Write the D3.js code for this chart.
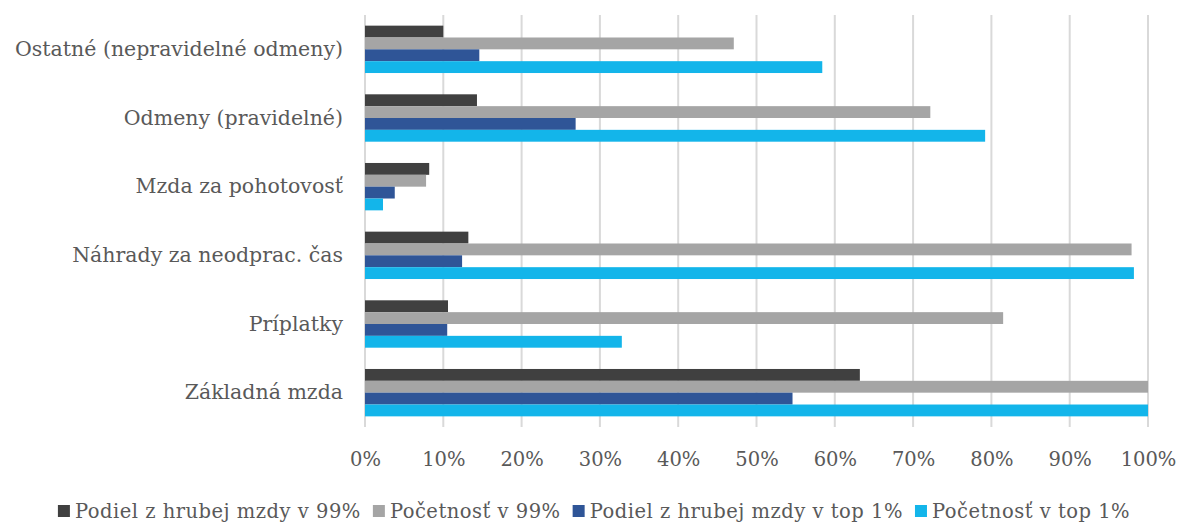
<!DOCTYPE html>
<html><head><meta charset="utf-8">
<script src="https://cdn.jsdelivr.net/npm/d3@7"></script>
<style>
html,body{margin:0;padding:0;background:#fff;}
svg text{font-family:"DejaVu Serif","Liberation Serif",serif;fill:#595959;}
</style></head>
<body><svg id="c" width="1177" height="523"></svg>
<script>
const categories = ["Ostatné (nepravidelné odmeny)","Odmeny (pravidelné)","Mzda za pohotovosť","Náhrady za neodprac. čas","Príplatky","Základná mzda"];
const seriesNames = ["Podiel z hrubej mzdy v 99%","Početnosť v 99%","Podiel z hrubej mzdy v top 1%","Početnosť v top 1%"];
const podiel99 = [10.0, 14.3, 8.2, 13.2, 10.6, 63.2];
const pocetnost99 = [47.1, 72.2, 7.8, 97.9, 81.5, 100];
const podielTop1 = [14.6, 26.9, 3.8, 12.4, 10.5, 54.6];
const pocetnostTop1 = [58.4, 79.2, 2.3, 98.2, 32.8, 100];
const tickValues = [0,10,20,30,40,50,60,70,80,90,100];
const colors = ["#404040","#a5a5a5","#2f5597","#13b5ea"];

(function(){
const seriesValues = [podiel99, pocetnost99, podielTop1, pocetnostTop1];
const svg = d3.select("#c");
const mLeft = 365, mRight = 1148, mTop = 15, mBottom = 427;

const x = d3.scaleLinear().domain([0,100]).range([mLeft,mRight]);
const y = d3.scaleBand().domain(categories).range([mTop,mBottom]).paddingInner(0.31).paddingOuter(0.155);
const ySub = d3.scaleBand().domain(d3.range(4)).range([0,y.bandwidth()]);

svg.append("g").selectAll("line").data(tickValues).join("line")
  .attr("x1",d=>x(d)).attr("x2",d=>x(d)).attr("y1",mTop).attr("y2",mBottom)
  .attr("stroke","#d9d9d9").attr("stroke-width",2);

const g = svg.append("g");
categories.forEach((c,i)=>{
  seriesValues.forEach((vals,s)=>{
    g.append("rect").attr("x",x(0)).attr("y",y(c)+ySub(s))
     .attr("width",x(vals[i])-x(0)).attr("height",ySub.bandwidth())
     .attr("fill",colors[s]);
  });
});

const xa = svg.append("g").attr("transform",`translate(0,${mBottom})`)
  .call(d3.axisBottom(x).tickValues(tickValues).tickFormat(d=>d+"%").tickSize(0).tickPadding(25));
xa.select(".domain").remove();
xa.attr("font-family",null).attr("font-size",null);
xa.selectAll("text").attr("font-size",19.5).attr("fill",null);

const ya = svg.append("g").attr("transform",`translate(${mLeft},0)`)
  .call(d3.axisLeft(y).tickSize(0).tickPadding(22));
ya.select(".domain").remove();
ya.attr("font-family",null).attr("font-size",null);
ya.selectAll("text").attr("font-size",20.5).attr("fill",null);

const lg = svg.append("g");
let cx = 0;
seriesNames.forEach((n,i)=>{
  const it = lg.append("g");
  it.append("rect").attr("x",0).attr("y",-13).attr("width",12).attr("height",12).attr("fill",colors[i]);
  const t = it.append("text").attr("x",17).attr("y",0).attr("font-size",19.5).attr("letter-spacing",0.5).text(n);
  const w = 17 + t.node().getComputedTextLength();
  it.attr("transform",`translate(${cx},0)`);
  cx += w + 12;
});
const total = cx - 12;
lg.attr("transform",`translate(${(48+1140)/2 - total/2},518)`);
})();
</script></body></html>
